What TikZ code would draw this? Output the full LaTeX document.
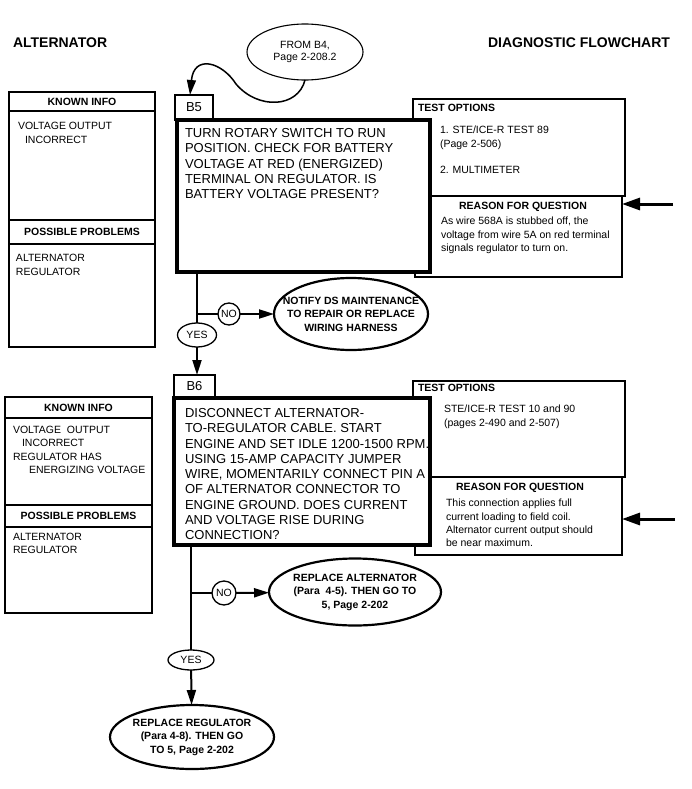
\documentclass[tikz,border=0pt]{standalone}
\usepackage{fontspec}
\setmainfont{Liberation Sans}
\usetikzlibrary{arrows.meta,shapes.geometric,positioning}

\begin{document}
\begin{tikzpicture}[x=1pt,y=-1pt,>={Triangle[length=15pt,width=9pt]},
  every node/.style={inner sep=0pt,outer sep=0pt},
  title/.style={font=\fontsize{14}{16}\selectfont\bfseries},
  panel/.style={draw,line width=1.1pt,minimum width=146pt},
  head/.style={font=\fontsize{10.5}{12}\selectfont\bfseries},
  small/.style={font=\fontsize{10.5}{13.5}\selectfont,align=left,anchor=north west},
  tab/.style={draw,line width=1.1pt,fill=white,anchor=north west,font=\fontsize{13}{15}\selectfont},
  stepbox/.style={draw,line width=4pt,fill=white,anchor=north west},
  steptext/.style={font=\fontsize{13}{15.3}\selectfont,align=left,anchor=north west},
  optbox/.style={draw,line width=1.1pt,anchor=north west,minimum width=212pt},
  whybox/.style={draw,line width=1.1pt,anchor=north west,minimum width=207pt},
  answer/.style={draw,ellipse,line width=2.2pt},
  answertext/.style={font=\fontsize{10.5}{13.5}\selectfont\bfseries,align=center},
  choice/.style={draw,ellipse,line width=1.3pt,font=\fontsize{10.5}{12}\selectfont},
  flow/.style={line width=2pt},
  pointer/.style={line width=3pt,-{Triangle[length=18pt,width=12pt]}}]
  \useasboundingbox (0,0) rectangle (692,789);

  % titles
  \node[title,anchor=west] (titleL) at (13,43) {ALTERNATOR};
  \node[title,anchor=east] (titleR) at (670,43) {DIAGNOSTIC FLOWCHART};

  % entry from B4
  \node[draw,ellipse,line width=1.1pt,minimum width=116pt,minimum height=56pt,
        font=\fontsize{10.5}{12.5}\selectfont,align=center] (fromB4) at (305,52)
       {FROM B4,\\Page 2-208.2};

  % ---- B5 ----
  \node[panel,anchor=north west,minimum height=19pt,head] (known1) at (9,92) {KNOWN INFO};
  \node[panel,minimum height=109pt,below=0pt of known1] (knownbody1) {};
  \node[panel,minimum height=24pt,below=0pt of knownbody1,head] (possible1) {POSSIBLE PROBLEMS};
  \node[panel,minimum height=103pt,below=0pt of possible1] (possiblebody1) {};
  \node[small,font=\fontsize{10.5}{14}\selectfont] (knowntext1) at (18,122.2)
       {VOLTAGE OUTPUT\\\hspace*{7pt}INCORRECT};
  \node[small,font=\fontsize{10.5}{14}\selectfont] (possibletext1) at (16,254.2)
       {ALTERNATOR\\REGULATOR};

  \node[optbox,minimum height=97pt] (test1) at (413,99) {};
  \node[whybox,minimum height=81pt] (reason1) at (415,196) {};
  \node[head,anchor=north west] (testhead1) at (418,104.2) {TEST OPTIONS};
  \node[small,font=\fontsize{10.5}{14}\selectfont] (testtext1) at (440,126.2)
       {1. STE/ICE-R TEST 89\\(Page 2-506)\\[12pt]2. MULTIMETER};
  \node[head] (reasonhead1) at (523,207) {REASON FOR QUESTION};
  \node[small] (reasontext1) at (441,217.2)
       {As wire 568A is stubbed off, the\\voltage from wire 5A on red terminal\\signals regulator to turn on.};
  \coordinate (ptr1) at (673,204);
  \draw[pointer] (ptr1) -- (ptr1 -| reason1.east);

  \node[tab,minimum width=38pt,minimum height=25pt] (B5tab) at (175,95) {B5};
  \node[stepbox,minimum width=253pt,minimum height=152pt] (B5box) at (177,120) {};
  \node[steptext] (B5text) at (185,128.4)
       {TURN ROTARY SWITCH TO RUN\\POSITION. CHECK FOR BATTERY\\VOLTAGE AT RED (ENERGIZED)\\TERMINAL ON REGULATOR. IS\\BATTERY VOLTAGE PRESENT?};

  \draw[line width=1.5pt,->] (fromB4.south) .. controls (298,108) and (258,110) .. (236,84)
       .. controls (222,62) and (194,54) .. ([xshift=-4pt]B5tab.north);

  \node[choice,minimum width=39pt,minimum height=24pt] (yes1) at (197,335) {YES};
  \node[choice,circle,minimum size=22pt] (no1) at (229,314) {NO};
  \node[answer,minimum width=154pt,minimum height=72pt] (notify) at (351,314) {};
  \node[answertext] (notifytext) at (notify) {NOTIFY DS MAINTENANCE\\TO REPAIR OR REPLACE\\WIRING HARNESS};
  \draw[flow] (yes1.north |- B5box.south) -- (yes1.north);
  \draw[flow] (no1.west -| yes1) -- (no1.west);
  \draw[flow,->] (no1) -- (notify);

  % ---- B6 ----
  \node[panel,anchor=north west,minimum width=147pt,minimum height=21pt,head] (known2) at (5,397) {KNOWN INFO};
  \node[panel,minimum width=147pt,minimum height=87pt,below=0pt of known2] (knownbody2) {};
  \node[panel,minimum width=147pt,minimum height=22pt,below=0pt of knownbody2,head] (possible2) {POSSIBLE PROBLEMS};
  \node[panel,minimum width=147pt,minimum height=86pt,below=0pt of possible2] (possiblebody2) {};
  \node[small,font=\fontsize{10.5}{13.4}\selectfont] (knowntext2) at (13,426.2)
       {VOLTAGE\ \ OUTPUT\\\hspace*{9pt}INCORRECT\\REGULATOR HAS\\\hspace*{16pt}ENERGIZING VOLTAGE};
  \node[small,font=\fontsize{10.5}{13.4}\selectfont] (possibletext2) at (13,533.2)
       {ALTERNATOR\\REGULATOR};

  \node[optbox,minimum height=96pt] (test2) at (413,381) {};
  \node[whybox,minimum height=78pt] (reason2) at (415,477) {};
  \node[head,anchor=north west] (testhead2) at (418,384.2) {TEST OPTIONS};
  \node[small,font=\fontsize{10.5}{14}\selectfont] (testtext2) at (444,405.2)
       {STE/ICE-R TEST 10 and 90\\(pages 2-490 and 2-507)};
  \node[head] (reasonhead2) at (520,488) {REASON FOR QUESTION};
  \node[small,font=\fontsize{10.5}{13.3}\selectfont] (reasontext2) at (446,499.2)
       {This connection applies full\\current loading to field coil.\\Alternator current output should\\be near maximum.};
  \coordinate (ptr2) at (675,519);
  \draw[pointer] (ptr2) -- (ptr2 -| reason2.east);

  \node[tab,minimum width=41pt,minimum height=23pt] (B6tab) at (174,375) {B6};
  \node[stepbox,minimum width=256pt,minimum height=147pt] (B6box) at (174,398) {};
  \node[steptext] (B6text) at (185,408.4)
       {DISCONNECT ALTERNATOR-\\TO-REGULATOR CABLE. START\\ENGINE AND SET IDLE 1200-1500 RPM.\\USING 15-AMP CAPACITY JUMPER\\WIRE, MOMENTARILY CONNECT PIN A\\OF ALTERNATOR CONNECTOR TO\\ENGINE GROUND. DOES CURRENT\\AND VOLTAGE RISE DURING\\CONNECTION?};
  \draw[flow,->] (yes1) -- (yes1 |- B6tab.north);

  \node[choice,minimum width=46pt,minimum height=20pt] (yes2) at (191,660) {YES};
  \node[choice,circle,minimum size=24pt] (no2) at (224,593) {NO};
  \node[answer,minimum width=172pt,minimum height=67pt] (replaceAlt) at (355,592) {};
  \node[answertext] (replaceAlttext) at (replaceAlt) {REPLACE ALTERNATOR\\(Para\ \ 4-5). THEN GO TO\\5, Page 2-202};
  \node[answer,minimum width=164pt,minimum height=64pt] (replaceReg) at (192,737) {};
  \node[answertext] (replaceRegtext) at (replaceReg) {REPLACE REGULATOR\\(Para 4-8). THEN GO\\TO 5, Page 2-202};
  \draw[flow] (yes2.north |- B6box.south) -- (yes2.north);
  \draw[flow] (no2.west -| yes2) -- (no2.west);
  \draw[flow,->] (no2) -- (replaceAlt);
  \draw[flow,->] (yes2) -- (replaceReg);
\end{tikzpicture}
\end{document}
